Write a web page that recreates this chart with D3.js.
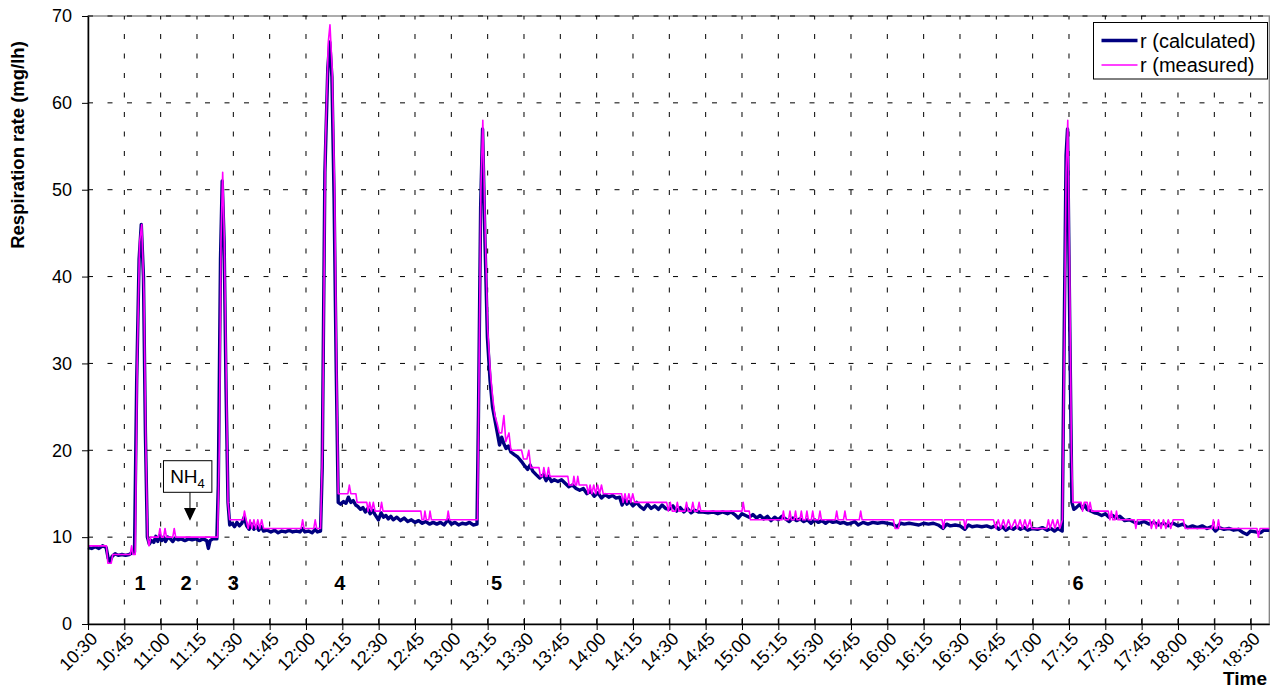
<!DOCTYPE html>
<html><head><meta charset="utf-8">
<script src="https://cdn.jsdelivr.net/npm/d3@7"></script>
<style>
body{margin:0;background:#fff}
svg{display:block}
text{font-family:Arial,"Liberation Sans",sans-serif;fill:#000}
</style>
</head><body>
<svg id="chart" width="1274" height="691"></svg>
<script>
// ---- data (time = minutes after 10:30) ----
const tickLabels = ["10:30","10:45","11:00","11:15","11:30","11:45","12:00","12:15","12:30","12:45","13:00","13:15","13:30","13:45","14:00","14:15","14:30","14:45","15:00","15:15","15:30","15:45","16:00","16:15","16:30","16:45","17:00","17:15","17:30","17:45","18:00","18:15","18:30"];
const yTicks = [0,10,20,30,40,50,60,70];
const seriesNames = ["r (calculated)","r (measured)"];
const markerLabels = ["1","2","3","4","5","6"];
const markerTimes = [21.5,40.5,60.0,104.0,168.7,408.7];

const measured = [[0,9],[7.6,9],[8.2,7],[9.6,7],[10.2,8],[17.4,8],[18.0,9],[18.6,8],[19.5,8],[20.3,30],[21.3,44],[22.2,46],[23.1,38],[23.9,20],[24.6,10],[25.2,9],[25.9,10],[29.1,10],[29.7,11],[30.3,10],[31.2,10],[31.8,11],[32.4,10],[35.0,10],[35.6,11],[36.2,10],[53.5,10],[54.2,20],[54.9,44],[55.6,52],[56.3,44],[57.1,28],[57.8,14],[58.5,12],[64.0,12],[64.6,13],[65.3,12],[66.1,11],[66.9,12],[67.7,11],[68.5,12],[69.3,11],[70.1,12],[70.9,11],[71.7,12],[72.5,11],[88.0,11],[88.6,12],[89.2,11],[93.2,11],[93.8,12],[94.4,11],[96.0,11],[96.8,20],[98.0,55],[99.2,67],[99.9,69],[100.8,64],[101.8,50],[102.6,30],[103.3,15],[107.3,15],[107.9,16],[108.5,15],[110.6,15],[111.1,14],[115.1,14],[115.6,13],[116.3,14],[117.0,13],[117.8,14],[118.5,13],[120.6,13],[121.2,14],[121.8,13],[137.4,13],[137.9,12],[138.6,12],[139.1,13],[139.7,12],[140.7,12],[141.2,13],[141.8,12],[148.2,12],[148.7,13],[149.3,12],[160.8,12],[161.3,25],[162.2,50],[163.0,58],[164.0,45],[165.0,34],[166.1,29],[167.1,26],[168.0,24],[169.0,23],[169.8,22],[170.8,22],[171.7,24],[172.5,21],[173.8,22],[174.6,20],[179.0,20],[179.8,19],[181.2,19],[182.0,20],[182.8,18],[186.2,18],[186.8,17],[187.6,17],[188.2,18],[188.9,17],[189.5,17],[190.1,18],[190.7,17],[198.1,17],[198.6,16],[200.1,16],[200.6,17],[201.2,16],[201.7,16],[202.2,17],[202.8,16],[205.9,16],[206.5,15],[207.3,16],[208.0,15],[208.8,16],[209.6,15],[210.4,16],[211.2,15],[212.0,16],[212.7,15],[220.3,15],[220.9,14],[221.7,15],[222.5,14],[223.3,15],[224.1,14],[224.9,15],[225.7,14],[238.9,14],[239.6,13],[240.4,14],[241.2,13],[242.6,13],[243.3,14],[244.0,13],[246.4,13],[247.1,14],[247.8,13],[249.0,13],[249.7,14],[250.4,13],[251.6,13],[252.3,14],[253.0,13],[270.0,13],[270.5,14],[271.1,13],[273.0,13],[273.5,12],[286.5,12],[287.1,13],[287.7,12],[289.2,12],[289.8,13],[290.4,12],[291.5,12],[292.1,13],[292.7,12],[293.9,12],[294.5,13],[295.1,12],[296.2,12],[296.8,13],[297.4,12],[298.6,12],[299.2,13],[299.8,12],[301.6,12],[302.2,13],[302.8,12],[308.5,12],[309.1,13],[309.7,12],[311.9,12],[312.5,13],[313.1,12],[318.4,12],[319.0,13],[319.6,12],[332.5,12],[333.2,11],[334.6,11],[335.2,12],[352.6,12],[353.1,11],[353.7,12],[361.6,12],[362.1,11],[362.7,12],[373.8,12],[374.8,11],[375.8,12],[376.8,11],[377.9,12],[378.9,11],[380.0,12],[381.2,11],[382.7,12],[383.7,11],[384.8,12],[385.8,11],[386.8,12],[387.8,11],[388.9,12],[389.6,11],[395.8,11],[396.5,12],[397.2,11],[398.3,12],[399.2,11],[400.3,12],[401.2,11],[402.3,12],[403.0,30],[403.8,52],[404.5,58],[405.3,40],[406.0,20],[406.6,14],[410.0,14],[410.6,13],[411.3,14],[412.5,14],[413.1,13],[413.7,14],[414.4,13],[421.2,13],[421.9,12],[422.5,13],[423.1,12],[424.0,12],[424.6,13],[425.2,12],[432.0,12],[432.6,11],[433.2,12],[438.4,12],[439.0,11],[440.0,12],[441.0,11],[442.0,12],[443.0,11],[444.0,12],[445.0,11],[446.0,12],[447.0,11],[448.0,12],[452.2,12],[453.0,11],[464.0,11],[464.6,12],[465.2,11],[466.1,11],[466.7,12],[467.3,11],[482.6,11],[483.2,10],[483.9,11],[487.7,11]];

const calculated = [[0,8.8],[1.5,8.7],[3,8.9],[4.5,8.7],[6,9.0],[7.5,8.8],[8.3,7.6],[9.0,7.2],[10.0,7.8],[11.2,8.1],[12.5,7.9],[14,8.0],[15.5,7.9],[17.0,8.0],[18.2,8.2],[19.2,8.3],[20.1,28],[21.1,42],[22.0,46],[22.9,40],[23.7,22],[24.5,10],[25.3,9.2],[26.2,9.6],[27.2,9.4],[28.0,10.1],[28.8,9.5],[29.6,10.2],[30.4,9.6],[31.2,10.0],[32.0,9.5],[33.0,10.0],[34.0,9.8],[35.0,9.5],[36.0,9.9],[37.2,9.7],[38.5,9.8],[40,9.6],[41.5,9.8],[43,9.7],[44.5,9.8],[46,9.6],[47.5,9.8],[49.0,9.6],[49.7,8.7],[50.4,9.6],[51.5,9.8],[53.2,9.8],[53.8,16],[54.7,42],[55.4,51],[56.2,44],[57.0,27],[57.8,14],[58.5,11.4],[59.5,11.6],[60.5,11.2],[61.5,11.7],[62.5,11.3],[63.5,11.6],[64.5,12.3],[65.5,11.3],[66.5,10.9],[67.5,11.5],[68.5,10.9],[69.5,11.3],[70.5,10.8],[71.5,11.2],[72.5,10.7],[74,10.8],[75.5,10.6],[77,10.8],[78.5,10.5],[80,10.7],[81.5,10.6],[83,10.8],[84.5,10.6],[86,10.7],[87.5,10.6],[88.6,11.0],[89.5,10.6],[91,10.7],[92.5,10.5],[93.8,10.9],[94.7,10.6],[96.0,10.7],[96.7,18],[97.8,52],[99.0,64],[99.8,67],[100.7,63],[101.6,49],[102.5,29],[103.3,14],[104.3,13.8],[105.5,14.1],[106.5,13.9],[107.5,14.6],[108.5,14.0],[109.5,14.2],[110.5,13.7],[111.5,13.5],[112.5,13.2],[113.5,13.4],[114.5,12.9],[115.5,13.3],[116.5,12.7],[117.5,13.1],[118.5,12.6],[119.9,12.0],[121,12.8],[122,12.3],[123,12.5],[124,12.1],[125,12.4],[126,12.0],[127.5,12.3],[129,11.9],[130.5,12.2],[132,11.8],[133.5,12.0],[135,11.7],[136.5,11.9],[138,11.6],[139.5,11.8],[141,11.5],[142.5,11.7],[144,11.5],[145.5,11.7],[147,11.4],[148.6,12.0],[150,11.5],[151.5,11.7],[153,11.4],[154.5,11.6],[156,11.5],[157.5,11.7],[159,11.4],[160.6,11.5],[161.2,24],[162.1,48],[162.9,57],[163.9,44],[164.9,33],[166.0,28],[167.0,25],[168.0,23.5],[169.0,22],[169.9,20.6],[170.8,21.5],[171.6,20.8],[172.6,20.2],[173.6,20.5],[174.6,19.8],[176,19.5],[177.5,19.2],[179,18.7],[180.3,18.2],[181.5,17.8],[182.5,18.3],[183.6,17.6],[185,17.2],[186.5,16.8],[188,17.2],[189.1,16.5],[190.2,17.0],[191.3,16.4],[192.5,16.6],[194,16.4],[195.5,16.6],[197,16.2],[198.5,15.8],[200,16.0],[201.5,15.6],[203,15.4],[204.5,15.6],[206,15.0],[207.5,15.3],[209,14.7],[210.5,15.1],[212,14.5],[213.5,14.9],[215,14.6],[216.5,14.8],[218,14.5],[219.5,14.6],[220.5,13.7],[221.5,14.3],[222.5,13.8],[223.5,14.1],[225,13.6],[226.5,14.0],[228,13.5],[229.5,13.2],[231,13.8],[232.5,13.3],[234,13.6],[235.5,13.2],[237,13.7],[238.5,13.3],[240,13.2],[241.5,13.6],[243,13.0],[244.5,13.4],[246,12.9],[247.5,13.3],[249,12.8],[250.5,13.1],[252,12.9],[254,12.9],[256,12.8],[258,12.9],[260,12.7],[262,12.9],[264,12.7],[265.5,12.9],[267,12.6],[268.5,12.2],[270,12.7],[271.5,12.5],[273,12.3],[274.5,12.6],[276,12.2],[277.5,12.5],[279,12.1],[280.5,12.4],[282,11.9],[283.5,12.3],[285,12.0],[286.5,12.4],[288,12.1],[289.5,11.8],[291,12.2],[292.5,11.9],[294,12.1],[295.5,11.8],[297,12.0],[298.5,11.6],[300,12.0],[301.5,11.7],[303,11.9],[304.5,11.6],[306,11.9],[307.5,11.7],[309,11.8],[310.5,11.6],[312,11.7],[313.5,11.5],[315,11.6],[316.5,11.8],[318,11.4],[320,11.7],[322,11.5],[324,11.7],[326,11.6],[328,11.7],[330,11.6],[332,11.5],[334,11.2],[335.5,11.6],[337,11.5],[339,11.6],[341,11.5],[343,11.4],[345,11.6],[347,11.5],[349,11.6],[351,11.4],[353,11.0],[354.5,11.5],[356,11.3],[358,11.4],[360,11.3],[362,10.9],[363.5,11.4],[365,11.2],[367,11.3],[369,11.2],[371,11.3],[373,11.1],[374.5,11.3],[376,10.9],[377.5,11.2],[379,10.8],[380.5,11.1],[382,10.9],[383.5,11.2],[385,10.9],[386.5,11.1],[388,10.8],[390,11.0],[392,10.9],[394,11.1],[396,10.8],[397.5,11.0],[399,10.7],[400.5,11.0],[402.2,10.7],[402.9,30],[403.8,54],[404.4,57],[405.3,35],[406.2,14],[407.0,13.2],[408,13.4],[409.5,13.8],[410.5,13.3],[411.5,13.7],[412.5,13.2],[414,13.0],[415.5,12.8],[417,12.7],[418.5,12.5],[420,12.7],[421.5,12.3],[423,12.5],[424.5,12.2],[426,12.4],[428,11.9],[430,12.0],[432,11.7],[434,11.6],[436,11.8],[438,11.5],[440,11.7],[442,11.4],[444,11.6],[446,11.3],[448,11.6],[450,11.3],[452,11.5],[454,11.1],[456,11.3],[458,11.1],[460,11.3],[462,11.0],[464,11.2],[465.5,10.7],[467,11.1],[469,10.9],[471,11.0],[473,10.8],[475,10.9],[477,10.5],[478.5,10.3],[480,10.7],[482,10.6],[484,10.5],[485.5,10.8],[487.7,10.8]];

// ---- layout ----
const svg = d3.select("#chart");
const L = 88, R = 1269.3, T = 16, B = 624;
const x = d3.scaleLinear().domain([0, 487.7]).range([L, R]);
const y = d3.scaleLinear().domain([0, 70]).range([B, T]);
const tickTimes = tickLabels.map((d, i) => i * 15);

// plot border
svg.append("rect").attr("x", L).attr("y", T).attr("width", R - L).attr("height", B - T)
  .attr("fill", "#fff").attr("stroke", "#808080").attr("stroke-width", 1.3);

// gridlines
const grid = svg.append("g").attr("stroke", "#000").attr("stroke-width", 1).attr("stroke-dasharray", "5,14.5");
grid.selectAll("line.h").data(yTicks.filter(v => v > 0)).join("line")
  .attr("x1", L).attr("x2", R).attr("y1", d => y(d)).attr("y2", d => y(d));
grid.selectAll("line.v").data(tickTimes.slice(1)).join("line")
  .attr("x1", d => x(d)).attr("x2", d => x(d)).attr("y1", B).attr("y2", T);

// lines
const line = d3.line().x(d => x(d[0])).y(d => y(d[1]));
svg.append("path").datum(calculated).attr("d", line).attr("fill", "none")
  .attr("stroke", "#000080").attr("stroke-width", 3.4).attr("stroke-linejoin", "round");
svg.append("path").datum(measured).attr("d", line).attr("fill", "none")
  .attr("stroke", "#ff00ff").attr("stroke-width", 1.6).attr("stroke-linejoin", "round");

// axes
const yAxis = svg.append("g").attr("transform", `translate(${L},0)`)
  .call(d3.axisLeft(y).tickValues(yTicks).tickSize(6).tickPadding(10).tickSizeOuter(0));
yAxis.select(".domain").attr("stroke", "#000").attr("stroke-width", 1.5);
yAxis.selectAll("text").style("font-size", "18px");

const xAxis = svg.append("g").attr("transform", `translate(0,${B})`)
  .call(d3.axisBottom(x).tickValues(tickTimes).tickFormat((d, i) => tickLabels[i]).tickSizeOuter(0));
xAxis.select(".domain").attr("stroke", "#000").attr("stroke-width", 1.5);
xAxis.selectAll(".tick line").attr("y1", -6).attr("y2", 6);
xAxis.selectAll("text").style("font-size", "18px")
  .attr("text-anchor", "end").attr("dy", null).attr("y", null).attr("x", null)
  .attr("transform", "translate(10,16) rotate(-45)");

// axis titles
svg.append("text").attr("transform", "translate(24,145) rotate(-90)")
  .attr("text-anchor", "middle").style("font-size", "18.5px").style("font-weight", "bold")
  .text("Respiration rate (mg/lh)");
const tg = svg.append("g");
tg.append("rect").attr("x", 1217).attr("y", 666).attr("width", 53).attr("height", 25).attr("fill", "#fff");
tg.append("text").attr("x", 1267).attr("y", 685).attr("text-anchor", "end")
  .style("font-size", "19px").style("font-weight", "bold").text("Time");

// event markers
svg.selectAll("text.mk").data(markerLabels).join("text").attr("class", "mk")
  .attr("x", (d, i) => x(markerTimes[i])).attr("y", y(3.9))
  .attr("text-anchor", "middle").style("font-size", "20px").style("font-weight", "bold").text(d => d);

// NH4 annotation
const nhT = 42.1, ax = x(nhT);
const nh = svg.append("g");
nh.append("rect").attr("x", ax - 26.5).attr("y", 460.7).attr("width", 48.4).attr("height", 31.6)
  .attr("fill", "#fff").attr("stroke", "#000").attr("stroke-width", 1);
const nt = nh.append("text").attr("x", ax - 2.5).attr("y", 483).attr("text-anchor", "middle").style("font-size", "19px");
nt.append("tspan").text("NH");
nt.append("tspan").attr("dy", 5).style("font-size", "13px").text("4");
nh.append("line").attr("x1", ax).attr("x2", ax).attr("y1", 492.3).attr("y2", 509).attr("stroke", "#000").attr("stroke-width", 1);
nh.append("path").attr("d", `M${ax - 6},508 L${ax + 6},508 L${ax},${y(11.9)} Z`).attr("fill", "#000");

// legend
const lg = svg.append("g");
lg.append("rect").attr("x", 1093.5).attr("y", 22.5).attr("width", 174).attr("height", 56.5)
  .attr("fill", "#fff").attr("stroke", "#000").attr("stroke-width", 1);
const legendColors = ["#000080", "#ff00ff"], legendWidths = [3.4, 1.6];
seriesNames.forEach((name, i) => {
  const yy = 40.5 + i * 24.5;
  lg.append("line").attr("x1", 1101.5).attr("x2", 1137.5).attr("y1", yy).attr("y2", yy)
    .attr("stroke", legendColors[i]).attr("stroke-width", legendWidths[i]);
  lg.append("text").attr("x", 1140).attr("y", yy + 7).style("font-size", "20px").text(name);
});
</script>
</body></html>
